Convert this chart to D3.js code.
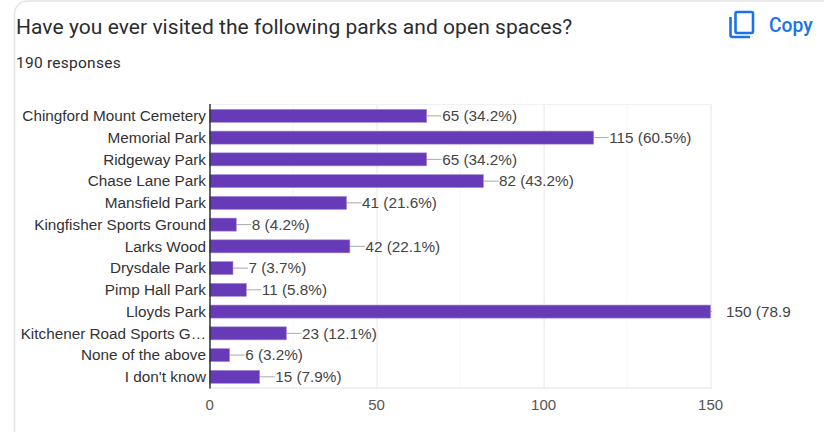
<!DOCTYPE html>
<html><head><meta charset="utf-8">
<script src="https://cdnjs.cloudflare.com/ajax/libs/d3/7.8.5/d3.min.js"></script>
<style>html,body{margin:0;padding:0;background:#fff;overflow:hidden}svg{display:block}</style>
</head><body><svg id="c" width="824" height="432"></svg>
<script>
const categories = ["Chingford Mount Cemetery","Memorial Park","Ridgeway Park","Chase Lane Park","Mansfield Park","Kingfisher Sports Ground","Larks Wood","Drysdale Park","Pimp Hall Park","Lloyds Park","Kitchener Road Sports G…","None of the above","I don't know"];
const counts = [65,115,65,82,41,8,42,7,11,150,23,6,15];
const valueLabels = ["65 (34.2%)","115 (60.5%)","65 (34.2%)","82 (43.2%)","41 (21.6%)","8 (4.2%)","42 (22.1%)","7 (3.7%)","11 (5.8%)","150 (78.9","23 (12.1%)","6 (3.2%)","15 (7.9%)"];
const xTicks = [0,50,100,150];
const xMinor = [25,75,125];
const title = "Have you ever visited the following parks and open spaces?";
const subtitle = "190 responses";

const svg = d3.select("#c");
const LABEL_FONT = "'Liberation Sans', Arial, sans-serif";
const UI_FONT = "Roboto, sans-serif";

// card outline
svg.append("path").attr("d","M14.5 432V14a13 13 0 0 1 13-13H824")
  .attr("fill","none").attr("stroke","#e3e4e8").attr("stroke-width",1.5);

svg.append("text").attr("x",16).attr("y",34).attr("font-family",UI_FONT).attr("font-size",21)
  .attr("letter-spacing","0.05px").attr("fill","#2b2c2f").text(title);
svg.append("text").attr("x",16).attr("y",68).attr("font-family",UI_FONT).attr("font-size",15.5)
  .attr("letter-spacing","0.25px").attr("fill","#2b2c2f").text(subtitle);

// copy icon
const icon = svg.append("g").attr("fill","none").attr("stroke","#1a73e8").attr("stroke-width",2.6);
icon.append("rect").attr("x",735.5).attr("y",12).attr("width",17.5).attr("height",21).attr("rx",1.5);
icon.append("path").attr("d","M730.5 17V35a2 2 0 0 0 2 2H750");
svg.append("text").attr("x",769).attr("y",32).attr("font-family",UI_FONT).attr("font-size",19.3)
  .attr("font-weight",500).attr("fill","#1a73e8").text("Copy");

const x = d3.scaleLinear().domain([0,150]).range([209.6,710.6]);
const y = d3.scaleBand().domain(categories).range([105,387.7]).paddingInner(0.4).paddingOuter(0.2);
const plotTop = 104.5, plotBottom = 388;

// gridlines
svg.append("g").selectAll("line").data(xMinor).join("line")
  .attr("x1",d=>x(d)).attr("x2",d=>x(d)).attr("y1",plotTop).attr("y2",plotBottom)
  .attr("stroke","#f6f6f7").attr("stroke-width",1);
svg.append("g").selectAll("line").data(xTicks.slice(1)).join("line")
  .attr("x1",d=>x(d)+0.5).attr("x2",d=>x(d)+0.5).attr("y1",plotTop).attr("y2",plotBottom)
  .attr("stroke","#efeff1").attr("stroke-width",1.5);
svg.append("line").attr("x1",x(0)).attr("x2",712).attr("y1",plotTop).attr("y2",plotTop).attr("stroke","#f1f1f3");
svg.append("line").attr("x1",x(0)).attr("x2",712).attr("y1",plotBottom).attr("y2",plotBottom).attr("stroke","#ececee").attr("stroke-width",1.5);

const rows = categories.map((c,i)=>({c,v:counts[i],l:valueLabels[i]}));

// leader lines
svg.append("g").selectAll("line").data(rows).join("line")
  .attr("x1",d=>x(d.v)).attr("x2",d=>x(d.v)+(d.v===150?1.5:15))
  .attr("y1",d=>y(d.c)+y.bandwidth()/2).attr("y2",d=>y(d.c)+y.bandwidth()/2)
  .attr("stroke","#a9a9a9").attr("stroke-width",1);

// bars
svg.append("g").selectAll("rect").data(rows).join("rect")
  .attr("x",x(0)).attr("y",d=>y(d.c)).attr("width",d=>x(d.v)-x(0)).attr("height",y.bandwidth())
  .attr("fill","#673ab7").attr("stroke","#a78fd6").attr("stroke-width",0.6);

// value labels
svg.append("g").selectAll("text").data(rows).join("text")
  .attr("x",d=>x(d.v)+15.5).attr("y",d=>y(d.c)+y.bandwidth()/2+5.3)
  .attr("font-family",LABEL_FONT).attr("font-size",15.3).attr("fill","#444").text(d=>d.l);

// category labels
svg.append("g").selectAll("text").data(rows).join("text")
  .attr("x",206).attr("y",d=>y(d.c)+y.bandwidth()/2+5.3).attr("text-anchor","end")
  .attr("font-family",LABEL_FONT).attr("font-size",15.3).attr("fill","#333").text(d=>d.c);

// x tick labels
svg.append("g").selectAll("text").data(xTicks).join("text")
  .attr("x",d=>x(d)).attr("y",410).attr("text-anchor","middle")
  .attr("font-family",LABEL_FONT).attr("font-size",15).attr("fill","#555").text(d=>d);

// baseline
svg.append("line").attr("x1",210).attr("x2",210).attr("y1",104).attr("y2",388.5)
  .attr("stroke","#333").attr("stroke-width",1.5);
</script></body></html>
